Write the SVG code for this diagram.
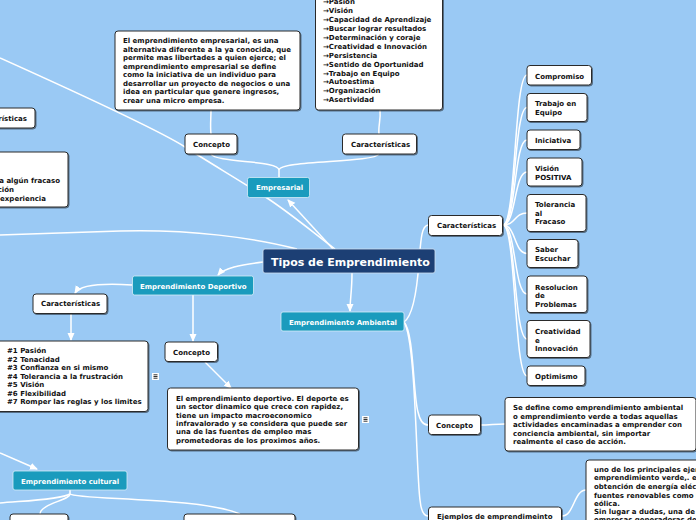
<svg xmlns="http://www.w3.org/2000/svg" width="696" height="520" viewBox="0 0 696 520">
<defs>
<style>
.t{font-family:"DejaVu Sans",Verdana,sans-serif;font-weight:bold;font-size:7px;fill:#111}
.tw{font-family:"DejaVu Sans",Verdana,sans-serif;font-weight:bold;font-size:7px;fill:#fff}
.box{fill:#fff;stroke:#2b2b2b;stroke-width:1;filter:url(#sh)}
.tb{fill:#1a9bbd;stroke:#d6eef7;stroke-width:0.8}
.c{fill:none;stroke:#fff;stroke-width:1.5}
.a{marker-end:url(#ar)}
.nl{stroke:#333;stroke-width:1}
</style>
<marker id="ar" markerWidth="8" markerHeight="8" refX="7" refY="4" orient="auto" markerUnits="userSpaceOnUse"><path d="M0,0.5 L8,4 L0,7.5 Z" fill="#fff"/></marker>
<filter id="sh" x="-10%" y="-10%" width="130%" height="130%"><feDropShadow dx="1" dy="1" stdDeviation="0.6" flood-color="#000" flood-opacity="0.45"/></filter>
</defs>
<rect x="0" y="0" width="696" height="520" fill="#9ac9f4"/>

<g id="connectors">
<path class="c" d="M335,249 C310,230 290,213 267,198 S210,163 185,147 S60,85 0,58"/>
<path class="c" d="M297,249 C255,238 190,229 120,231 S30,234 0,235"/>
<path class="c a" d="M333,249 L288,200"/>
<path class="c" d="M279,177 L279,170 C279,160 216,163 211,154"/>
<path class="c" d="M279,170 C279,160 374,163 379,154"/>
<path class="c" d="M211,110 C211,118 210,126 211,134"/>
<path class="c" d="M380,110 C381,120 378,126 379,134"/>
<path class="c a" d="M263,262 C240,265 224,268 218,275"/>
<path class="c a" d="M132,285 C100,283 80,285 75,293"/>
<path class="c a" d="M71,313 L71,340"/>
<path class="c a" d="M193,295 L193,341"/>
<path class="c a" d="M205,362 L231,388"/>
<path class="c a" d="M352,273 C352,290 350,300 350,311"/>
<path class="c" d="M404,322 C413,316 417,290 419,262 C421,236 422,226 428,225"/>
<path class="c" d="M404,322 C414,332 413,395 418,412 C420,421 423,425 428,425"/>
<path class="c" d="M404,322 C416,340 416,470 420,500 C421,510 423,516 428,516"/>
<path class="c" d="M503,225 C516,225 514,75 527,75"/>
<path class="c" d="M503,225 C516,225 514,107.5 527,107.5"/>
<path class="c" d="M503,225 C516,225 514,140 527,140"/>
<path class="c" d="M503,225 C516,225 514,172 527,172"/>
<path class="c" d="M503,225 C516,225 514,213 527,213"/>
<path class="c" d="M503,225 C516,225 514,253.5 527,253.5"/>
<path class="c" d="M503,225 C516,225 514,294 527,294"/>
<path class="c" d="M503,225 C516,225 514,339 527,339"/>
<path class="c" d="M503,225 C516,225 514,376 527,376"/>
<path class="c" d="M480,425 C490,425 495,424 505,424"/>
<path class="c" d="M562,516 C574,516 574,490 586,490"/>
<path class="c a" d="M0,453 L37,469"/>
<path class="c" d="M70,490 L70,494 C70,500 40,504 40,514"/>
<path class="c" d="M70,494 C76,500 200,497 240,514"/>
<path class="c" d="M70,494 C60,500 20,501 0,503"/>
</g>

<g id="central">
<rect x="263" y="249" width="172" height="24" rx="2" fill="#1c3f74" stroke="#cfe0f0" stroke-width="0.8"/>
<text x="271" y="265.5" class="tw" style="font-size:11px">Tipos de Emprendimiento</text>
</g>
<g id="empresarial">
<rect class="tb" x="247.5" y="177.5" width="62" height="20" rx="2"/>
<text class="tw" x="256" y="190">Empresarial</text>
</g>
<g id="deportivo">
<rect class="tb" x="132.5" y="276" width="121" height="19" rx="2"/>
<text class="tw" x="140" y="288.5">Emprendimiento Deportivo</text>
</g>
<g id="ambiental">
<rect class="tb" x="281" y="312" width="123" height="19" rx="2"/>
<text class="tw" x="289" y="324.5">Emprendimiento Ambiental</text>
</g>
<g id="cultural">
<rect class="tb" x="13" y="471" width="114" height="19" rx="2"/>
<text class="tw" x="21" y="483.5">Emprendimiento cultural</text>
</g>

<g id="emp-concepto">
<rect class="box" x="185" y="134" width="52" height="20" rx="3"/>
<text class="t" x="193" y="147">Concepto</text>
</g>
<g id="emp-concepto-texto">
<rect class="box" x="115" y="31" width="185" height="79" rx="3"/>
<text class="t" x="123" y="43.2">El emprendimiento empresarial, es una</text>
<text class="t" x="123" y="51.7">alternativa diferente a la ya conocida, que</text>
<text class="t" x="123" y="60.2">permite mas libertades a quien ejerce; el</text>
<text class="t" x="123" y="68.7">emprendimiento empresarial se define</text>
<text class="t" x="123" y="77.2">como la iniciativa de un individuo para</text>
<text class="t" x="123" y="85.7">desarrollar un proyecto de negocios o una</text>
<text class="t" x="123" y="94.2">idea en particular que genere ingresos,</text>
<text class="t" x="123" y="102.7">crear una micro empresa.</text>
</g>
<g id="emp-caracteristicas">
<rect class="box" x="342.5" y="134" width="74" height="20" rx="3"/>
<text class="t" x="351" y="147">Características</text>
</g>
<g id="emp-caracteristicas-lista">
<rect class="box" x="315.5" y="-10" width="127" height="120" rx="3"/>
<text class="t" x="323" y="4.3">→Pasión</text>
<text class="t" x="323" y="13.2">→Visión</text>
<text class="t" x="323" y="22.1">→Capacidad de Aprendizaje</text>
<text class="t" x="323" y="31">→Buscar lograr resultados</text>
<text class="t" x="323" y="39.9">→Determinación y coraje</text>
<text class="t" x="323" y="48.8">→Creatividad e Innovación</text>
<text class="t" x="323" y="57.7">→Persistencia</text>
<text class="t" x="323" y="66.6">→Sentido de Oportunidad</text>
<text class="t" x="323" y="75.5">→Trabajo en Equipo</text>
<text class="t" x="323" y="84.4">→Autoestima</text>
<text class="t" x="323" y="93.3">→Organización</text>
<text class="t" x="323" y="102.2">→Asertividad</text>
</g>
<g id="left-caracteristicas">
<rect class="box" x="-40" y="108" width="75" height="20" rx="3"/>
<text class="t" x="27" y="121" text-anchor="end">Características</text>
</g>
<g id="left-texto">
<rect class="box" x="-60" y="152" width="128" height="55" rx="3"/>
<text class="t" x="60" y="182.5" text-anchor="end">a algún fracaso</text>
<text class="t" x="14" y="191.5" text-anchor="end">ción</text>
<text class="t" x="46" y="200.5" text-anchor="end">experiencia</text>
</g>

<g id="amb-caracteristicas">
<rect class="box" x="428.5" y="215.5" width="74" height="20" rx="3"/>
<text class="t" x="437" y="228">Características</text>
</g>
<g id="compromiso">
<rect class="box" x="527" y="65.5" width="64.5" height="19.5" rx="3"/>
<text class="t" x="535" y="78.5">Compromiso</text>
</g>
<g id="trabajo">
<rect class="box" x="527" y="93.5" width="60" height="28" rx="3"/>
<text class="t" x="535" y="106">Trabajo en</text>
<text class="t" x="535" y="115">Equipo</text>
</g>
<g id="iniciativa">
<rect class="box" x="527" y="130" width="53" height="19.5" rx="3"/>
<text class="t" x="535" y="142.5">Iniciativa</text>
</g>
<g id="vision">
<rect class="box" x="527" y="158" width="55" height="28" rx="3"/>
<text class="t" x="535" y="171">Visión</text>
<text class="t" x="535" y="179.5">POSITIVA</text>
</g>
<g id="tolerancia">
<rect class="box" x="527" y="194.5" width="59" height="37" rx="3"/>
<text class="t" x="535" y="207">Tolerancia</text>
<text class="t" x="535" y="215.7">al</text>
<text class="t" x="535" y="224.4">Fracaso</text>
</g>
<g id="saber">
<rect class="box" x="527" y="239.5" width="51" height="28" rx="3"/>
<text class="t" x="535" y="252">Saber</text>
<text class="t" x="535" y="261">Escuchar</text>
</g>
<g id="resolucion">
<rect class="box" x="527" y="276" width="60" height="36.5" rx="3"/>
<text class="t" x="535" y="289.5">Resolucion</text>
<text class="t" x="535" y="298">de</text>
<text class="t" x="535" y="306.5">Problemas</text>
</g>
<g id="creatividad">
<rect class="box" x="527" y="320.5" width="63" height="37" rx="3"/>
<text class="t" x="535" y="334">Creatividad</text>
<text class="t" x="535" y="342.5">e</text>
<text class="t" x="535" y="351">Innovación</text>
</g>
<g id="optimismo">
<rect class="box" x="527" y="366" width="58" height="19.5" rx="3"/>
<text class="t" x="535" y="379">Optimismo</text>
</g>
<g id="amb-concepto">
<rect class="box" x="428.5" y="415" width="52" height="19.5" rx="3"/>
<text class="t" x="436" y="427.5">Concepto</text>
</g>
<g id="amb-concepto-texto">
<rect class="box" x="505" y="397.5" width="191" height="53.5" rx="3"/>
<text class="t" x="513" y="410">Se define como emprendimiento ambiental</text>
<text class="t" x="513" y="418.5">o emprendimiento verde a todas aquellas</text>
<text class="t" x="513" y="427">actividades encaminadas a emprender con</text>
<text class="t" x="513" y="435.5">conciencia ambiental, sin importar</text>
<text class="t" x="513" y="444">realmente el caso de acción.</text>
</g>
<g id="amb-ejemplo-texto">
<rect class="box" x="586" y="460" width="120" height="70" rx="3"/>
<text class="t" x="594" y="472">uno de los principales ejemplos</text>
<text class="t" x="594" y="480.4">emprendimiento verde,. es</text>
<text class="t" x="594" y="489">obtención de energía eléctrica</text>
<text class="t" x="594" y="497.5">fuentes renovables como la</text>
<text class="t" x="594" y="505.7">eólica.</text>
<text class="t" x="594" y="514">Sin lugar a dudas, una de las</text>
<text class="t" x="594" y="522.4">empresas generadoras de</text>
</g>
<g id="amb-ejemplos">
<rect class="box" x="428.5" y="507" width="133" height="20" rx="3"/>
<text class="t" x="437" y="519">Ejemplos de emprendimeinto</text>
</g>

<g id="dep-caracteristicas">
<rect class="box" x="33" y="294" width="74" height="19.5" rx="3"/>
<text class="t" x="41" y="306.3">Características</text>
</g>
<g id="dep-lista">
<rect class="box" x="-5" y="341" width="153" height="70.5" rx="3"/>
<text class="t" x="7" y="353.2">#1 Pasión</text>
<text class="t" x="7" y="361.7">#2 Tenacidad</text>
<text class="t" x="7" y="370.2">#3 Confianza en si mismo</text>
<text class="t" x="7" y="378.7">#4 Tolerancia a la frustración</text>
<text class="t" x="7" y="387.2">#5 Visión</text>
<text class="t" x="7" y="395.7">#6 Flexibilidad</text>
<text class="t" x="7" y="404.2">#7 Romper las reglas y los limites</text>
</g>
<g id="nota1">
<rect x="152" y="373" width="7" height="7" fill="#fff"/>
<path class="nl" d="M153.5,374.8 H157.5 M153.5,376.5 H157.5 M153.5,378.2 H157.5"/>
</g>
<g id="dep-concepto">
<rect class="box" x="165" y="342" width="52.5" height="19.5" rx="3"/>
<text class="t" x="173" y="354.5">Concepto</text>
</g>
<g id="dep-concepto-texto">
<rect class="box" x="167.5" y="388" width="191" height="62" rx="3"/>
<text class="t" x="176" y="401">El emprendimiento deportivo. El deporte es</text>
<text class="t" x="176" y="409.4">un sector dinamico que crece con rapidez,</text>
<text class="t" x="176" y="417.7">tiene un impacto macroeconomico</text>
<text class="t" x="176" y="426">infravalorado y se considera que puede ser</text>
<text class="t" x="176" y="434.4">una de las fuentes de empleo mas</text>
<text class="t" x="176" y="442.7">prometedoras de los proximos años.</text>
</g>
<g id="nota2">
<rect x="362" y="416" width="7" height="7" fill="#fff"/>
<path class="nl" d="M363.5,417.8 H367.5 M363.5,419.5 H367.5 M363.5,421.2 H367.5"/>
</g>

<g id="cult-hijo1">
<rect class="box" x="10" y="514" width="58" height="20" rx="3"/>
</g>
<g id="cult-hijo2">
<rect class="box" x="184" y="514" width="111" height="20" rx="3"/>
</g>
</svg>
